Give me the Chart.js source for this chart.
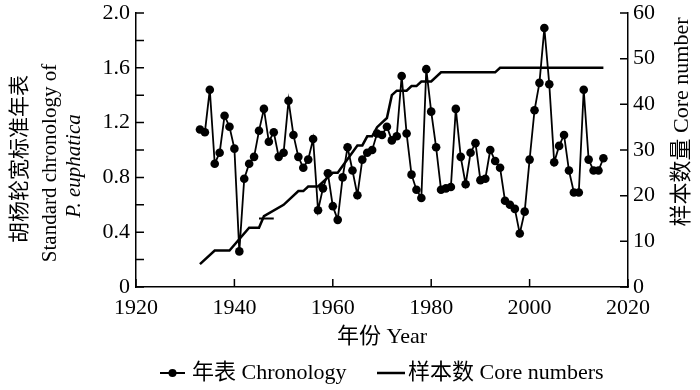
<!DOCTYPE html>
<html>
<head>
<meta charset="utf-8">
<script src="https://cdn.jsdelivr.net/npm/chart.js@4"></script>
<style>
  html, body { margin: 0; padding: 0; background: #fff; }
</style>
</head>
<body>
<canvas id="chart" width="700" height="390"></canvas>
<script>
// chronology values, one per year 1933-2015
const years = []
for (let y = 1933; y <= 2015; y++) years.push(y)
const chronology = [
  1.15, 1.13, 1.44, 0.90, 0.98, 1.25, 1.17, 1.01, 0.26, 0.79,
  0.90, 0.95, 1.14, 1.30, 1.06, 1.13, 0.95, 0.98, 1.36, 1.11,
  0.95, 0.87, 0.93, 1.08, 0.56, 0.72, 0.83, 0.59, 0.49, 0.80,
  1.02, 0.85, 0.67, 0.93, 0.98, 1.00, 1.12, 1.11, 1.17, 1.07,
  1.10, 1.54, 1.12, 0.82, 0.71, 0.65, 1.59, 1.28, 1.02, 0.71,
  0.72, 0.73, 1.30, 0.95, 0.75, 0.98, 1.05, 0.78, 0.79, 1.00,
  0.92, 0.87, 0.63, 0.60, 0.57, 0.39, 0.55, 0.93, 1.29, 1.49,
  1.89, 1.48, 0.91, 1.03, 1.11, 0.85, 0.69, 0.69, 1.44, 0.93,
  0.85, 0.85, 0.94
]

// core numbers (sample depth), read at the bends of the line
const coreYears = [1933, 1936, 1939, 1943, 1945, 1946, 1950, 1953, 1954, 1955, 1957, 1958, 1959, 1960, 1961, 1965, 1966, 1967, 1968, 1969, 1971, 1972, 1973, 1975, 1976, 1977, 1978, 1980, 1982, 1993, 1994, 2015]
const coreCounts = [5, 8, 8, 13, 13, 15.5, 18, 21, 21, 22, 22, 23, 24, 25, 25, 31, 31, 33, 33, 35, 37, 42, 43, 43, 44, 44, 45, 45, 47, 47, 48, 48]
// small stray segment in the original figure
const spurYears = [1945, 1948]
const spurCounts = [15, 15]

const xTicks = [1920, 1940, 1960, 1980, 2000, 2020]
const leftTicks = [0, 0.2, 0.4, 0.6, 0.8, 1.0, 1.2, 1.4, 1.6, 1.8, 2.0]
const rightTicks = [0, 10, 20, 30, 40, 50, 60]

const FONT = "'Liberation Serif', 'Noto Sans CJK SC', serif"

function toPoints(xs, ys) {
  return xs.map((x, i) => ({ x: x, y: ys[i] }))
}

// ticks point into the plot, so draw them by hand
const innerTicks = {
  id: 'innerTicks',
  afterDraw(chart) {
    const ctx = chart.ctx
    const area = chart.chartArea
    const len = 8
    ctx.save()
    ctx.strokeStyle = '#000'
    ctx.lineWidth = 1.5
    ctx.beginPath()
    leftTicks.forEach(v => {
      const y = chart.scales.y.getPixelForValue(v)
      ctx.moveTo(area.left, y)
      ctx.lineTo(area.left + len, y)
    })
    rightTicks.forEach(v => {
      const y = chart.scales.y1.getPixelForValue(v)
      ctx.moveTo(area.right, y)
      ctx.lineTo(area.right - len, y)
    })
    xTicks.forEach(v => {
      const x = chart.scales.x.getPixelForValue(v)
      ctx.moveTo(x, area.bottom)
      ctx.lineTo(x, area.bottom - len)
    })
    ctx.stroke()
    ctx.restore()
  }
}

// axis titles and legend
const labels = {
  id: 'labels',
  afterDraw(chart) {
    const ctx = chart.ctx
    ctx.save()
    ctx.fillStyle = '#000'
    ctx.textBaseline = 'middle'

    // left title, three rotated lines
    ctx.textAlign = 'center'
    ctx.save()
    ctx.translate(20, 159)
    ctx.rotate(-Math.PI / 2)
    ctx.font = "21px " + FONT
    ctx.fillText('胡杨轮宽标准年表', 0, 0)
    ctx.restore()

    ctx.save()
    ctx.translate(50, 163)
    ctx.rotate(-Math.PI / 2)
    ctx.font = "21px " + FONT
    ctx.fillText('Standard chronology of', 0, 0)
    ctx.restore()

    ctx.save()
    ctx.translate(74, 166)
    ctx.rotate(-Math.PI / 2)
    ctx.font = "italic 21px " + FONT
    ctx.fillText('P. euphatica', 0, 0)
    ctx.restore()

    // right title
    ctx.save()
    ctx.translate(682, 122)
    ctx.rotate(-Math.PI / 2)
    ctx.font = "22px " + FONT
    ctx.fillText('样本数量 Core number', 0, 0)
    ctx.restore()

    // x title
    ctx.font = "22px " + FONT
    ctx.fillText('年份 Year', 382, 337)

    // legend
    const ly = 373
    ctx.strokeStyle = '#000'
    ctx.lineWidth = 2
    ctx.beginPath()
    ctx.moveTo(160, ly)
    ctx.lineTo(185, ly)
    ctx.stroke()
    ctx.beginPath()
    ctx.arc(172.5, ly, 4, 0, Math.PI * 2)
    ctx.fill()
    ctx.textAlign = 'left'
    ctx.fillText('年表 Chronology', 192, ly)

    ctx.lineWidth = 2.5
    ctx.beginPath()
    ctx.moveTo(377, ly)
    ctx.lineTo(405, ly)
    ctx.stroke()
    ctx.fillText('样本数 Core numbers', 408, ly)
    ctx.restore()
  }
}

function noPad(scale) {
  scale.paddingTop = 0
  scale.paddingBottom = 0
  scale.paddingLeft = 0
  scale.paddingRight = 0
}

new Chart(document.getElementById('chart'), {
  type: 'line',
  data: {
    datasets: [
      {
        label: '年表 Chronology',
        data: toPoints(years, chronology),
        yAxisID: 'y',
        borderColor: '#000',
        backgroundColor: '#000',
        borderWidth: 1.8,
        pointRadius: 4.3,
        pointBorderWidth: 0,
        pointBackgroundColor: '#000'
      },
      {
        label: '样本数 Core numbers',
        data: toPoints(coreYears, coreCounts),
        yAxisID: 'y1',
        borderColor: '#000',
        borderWidth: 2.5,
        pointRadius: 0
      },
      {
        label: 'spur',
        data: toPoints(spurYears, spurCounts),
        yAxisID: 'y1',
        borderColor: '#000',
        borderWidth: 2,
        pointRadius: 0
      }
    ]
  },
  options: {
    responsive: false,
    animation: false,
    layout: { padding: { top: 13, left: 0, right: 0, bottom: 0 } },
    plugins: {
      legend: { display: false },
      tooltip: { enabled: false }
    },
    scales: {
      x: {
        type: 'linear',
        min: 1920,
        max: 2020,
        grid: { display: false, drawTicks: false },
        border: { display: true, color: '#000', width: 1.5 },
        ticks: {
          stepSize: 20,
          padding: 8,
          color: '#000',
          maxRotation: 0,
          font: { family: FONT, size: 22 },
          callback: v => String(v)
        },
        afterFit(scale) { scale.height = 103; noPad(scale) }
      },
      y: {
        position: 'left',
        min: 0,
        max: 2.0,
        grid: { display: false, drawTicks: false },
        border: { display: true, color: '#000', width: 1.5 },
        ticks: {
          stepSize: 0.2,
          padding: 6,
          color: '#000',
          font: { family: FONT, size: 22 },
          callback: v => {
            const n = Math.round(v * 10)
            if (n % 4 !== 0) return ''
            return n === 0 ? '0' : (n / 10).toFixed(1)
          }
        },
        afterFit(scale) { scale.width = 136; noPad(scale) }
      },
      y1: {
        position: 'right',
        min: 0,
        max: 60,
        grid: { display: false, drawTicks: false },
        border: { display: true, color: '#000', width: 1.5 },
        ticks: {
          stepSize: 10,
          padding: 5,
          color: '#000',
          font: { family: FONT, size: 22 }
        },
        afterFit(scale) { scale.width = 72; noPad(scale) }
      }
    }
  },
  plugins: [innerTicks, labels]
})
</script>
</body>
</html>
